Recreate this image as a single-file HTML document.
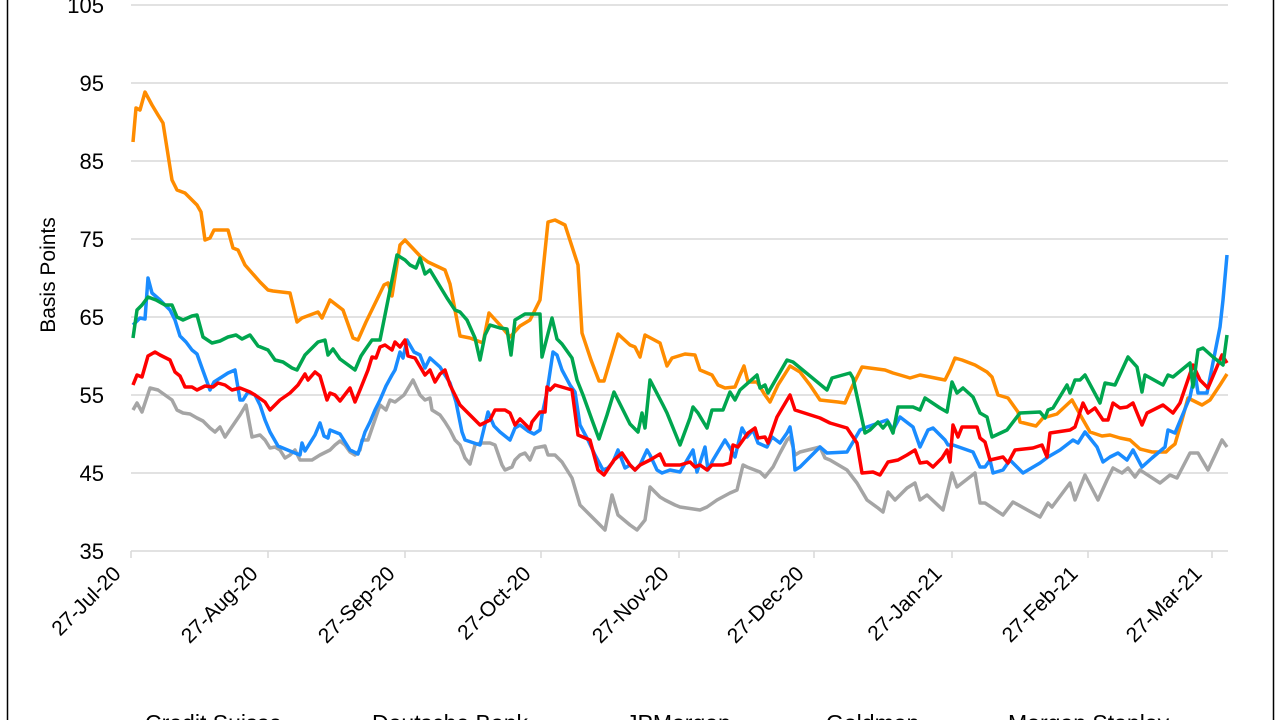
<!DOCTYPE html>
<html><head><meta charset="utf-8"><style>
html,body{margin:0;padding:0;background:#fff;width:1280px;height:720px;overflow:hidden}
svg{display:block;font-family:"Liberation Sans",Calibri,sans-serif}
</style></head><body>
<svg width="1280" height="720" viewBox="0 0 1280 720">
<rect x="0" y="0" width="1280" height="720" fill="#fff"/>
<line x1="7.5" y1="0" x2="7.5" y2="720" stroke="#000" stroke-width="1.5"/>
<line x1="1273.5" y1="0" x2="1273.5" y2="720" stroke="#000" stroke-width="1.5"/>
<g stroke="#d9d9d9" stroke-width="1.5">
<line x1="131" y1="5" x2="1228" y2="5"/>
<line x1="131" y1="83" x2="1228" y2="83"/>
<line x1="131" y1="161" x2="1228" y2="161"/>
<line x1="131" y1="239" x2="1228" y2="239"/>
<line x1="131" y1="317" x2="1228" y2="317"/>
<line x1="131" y1="395" x2="1228" y2="395"/>
<line x1="131" y1="473" x2="1228" y2="473"/>
<line x1="131" y1="551" x2="1228" y2="551"/>
<line x1="131" y1="551" x2="131" y2="558"/><line x1="268" y1="551" x2="268" y2="558"/><line x1="405" y1="551" x2="405" y2="558"/><line x1="541" y1="551" x2="541" y2="558"/><line x1="679" y1="551" x2="679" y2="558"/><line x1="814" y1="551" x2="814" y2="558"/><line x1="952" y1="551" x2="952" y2="558"/><line x1="1088" y1="551" x2="1088" y2="558"/><line x1="1212" y1="551" x2="1212" y2="558"/>
</g>
<g font-size="22" fill="#000" text-anchor="end">
<text x="104" y="13">105</text><text x="104" y="91">95</text><text x="104" y="169">85</text><text x="104" y="247">75</text><text x="104" y="325">65</text><text x="104" y="403">55</text><text x="104" y="481">45</text><text x="104" y="559">35</text>
</g>
<text x="0" y="0" font-size="21" text-anchor="middle" transform="translate(55,275) rotate(-90)">Basis Points</text>
<g font-size="21" fill="#000" text-anchor="end">
<text transform="translate(122,575) rotate(-45)">27-Jul-20</text>
<text transform="translate(259,575) rotate(-45)">27-Aug-20</text>
<text transform="translate(396,575) rotate(-45)">27-Sep-20</text>
<text transform="translate(532,575) rotate(-45)">27-Oct-20</text>
<text transform="translate(670,575) rotate(-45)">27-Nov-20</text>
<text transform="translate(805,575) rotate(-45)">27-Dec-20</text>
<text transform="translate(943,575) rotate(-45)">27-Jan-21</text>
<text transform="translate(1079,575) rotate(-45)">27-Feb-21</text>
<text transform="translate(1203,575) rotate(-45)">27-Mar-21</text>
</g>
<g fill="none" stroke-width="3.5" stroke-linejoin="round">
<polyline stroke="#a5a5a5" points="133,410 137,403 142,412 150,388 158,390 165,395 172,400 177,410 183,413 190,414 197,418 203,421 210,428 215,432 220,427 225,437 240,415 246,405 252,437 260,435 265,440 270,448 275,447 280,450 285,458 290,455 295,450 300,460 305,460 312,460 320,455 330,450 335,445 340,441 345,445 350,452 355,455 360,450 362,440 368,440 380,405 386,410 390,400 395,402 404,395 413,380 420,395 425,400 430,398 432,410 440,415 445,422 450,430 455,440 460,445 465,458 470,464 475,445 480,443 490,443 495,445 502,465 505,470 512,467 515,460 520,455 525,453 530,460 535,448 545,446 548,455 555,455 562,462 572,478 580,505 590,515 600,525 605,530 612,495 618,515 630,525 637,530 645,520 650,487 660,497 665,500 675,505 680,507 700,510 707,507 717,500 730,493 737,490 743,465 747,467 760,472 765,477 773,467 780,453 787,440 790,437 793,447 795,455 800,452 820,447 825,458 830,460 847,470 857,483 867,500 878,508 883,512 888,492 895,500 907,488 915,483 920,500 927,495 943,510 952,473 957,487 975,473 980,503 985,503 1003,515 1013,502 1040,517 1048,503 1052,507 1070,483 1075,500 1085,475 1098,500 1107,480 1113,468 1122,473 1128,468 1135,477 1140,470 1160,483 1170,475 1177,478 1190,453 1198,453 1208,470 1222,440 1227,447"/>
<polyline stroke="#ff8c00" points="133,142 136,108 140,110 145,92 152,105 158,115 163,123 172,180 177,190 185,193 197,205 201,212 205,240 210,238 214,230 228,230 233,248 238,250 245,265 260,282 268,290 273,291 290,293 297,322 302,318 318,312 322,318 330,300 343,310 353,338 358,340 366,322 384,285 388,283 392,296 400,245 405,240 420,256 428,262 445,270 450,284 460,336 470,338 483,343 489,313 500,325 510,337 520,326 530,320 540,300 548,222 555,220 565,225 578,265 582,333 591,360 599,381 604,381 618,334 630,345 635,347 640,357 645,335 660,343 667,366 672,358 685,354 695,355 700,370 712,375 718,385 725,388 735,387 740,375 744,366 748,382 757,382 765,395 770,402 778,385 790,366 800,372 810,385 820,400 838,402 845,403 852,387 862,367 885,370 893,373 900,375 910,378 920,375 935,378 945,380 950,370 955,358 962,360 975,365 987,372 992,377 998,395 1008,398 1013,405 1018,412 1020,422 1036,426 1043,418 1057,414 1072,400 1082,418 1090,432 1102,436 1110,435 1120,438 1130,440 1140,449 1152,452 1166,452 1170,448 1175,444 1182,420 1188,398 1196,402 1202,405 1210,400 1220,385 1227,374"/>
<polyline stroke="#1a8cff" points="133,325 140,318 145,319 148,278 152,293 160,300 170,310 175,320 180,336 186,342 192,350 197,354 202,368 210,390 214,382 228,373 235,370 240,400 243,400 248,392 255,395 260,405 265,420 270,432 278,446 290,451 300,455 302,443 305,451 315,435 320,423 324,436 328,438 330,430 340,434 350,450 358,454 365,432 370,422 375,410 380,400 386,386 392,375 395,370 400,352 403,358 407,340 414,352 420,355 425,368 430,358 440,367 450,383 456,402 462,432 465,440 480,445 488,412 494,426 500,432 510,440 515,428 520,425 528,431 534,434 540,430 542,415 547,392 553,352 557,355 562,370 570,385 575,392 580,425 588,440 595,455 603,470 608,468 613,462 618,450 625,468 630,465 635,470 640,465 647,450 650,455 657,470 662,473 670,470 680,472 693,450 697,472 705,447 708,470 713,460 725,440 730,448 735,457 742,428 747,437 753,430 758,443 767,447 772,437 780,443 787,433 790,427 793,445 795,470 800,467 820,447 827,453 847,452 853,442 860,430 867,427 887,420 893,430 900,417 913,427 920,447 928,430 933,428 945,440 948,445 953,445 973,452 980,467 985,467 990,460 993,473 1003,470 1010,460 1017,467 1023,473 1040,463 1048,457 1060,450 1073,440 1078,443 1085,432 1097,447 1103,462 1110,457 1118,453 1127,460 1133,450 1142,467 1152,458 1165,447 1168,430 1175,433 1190,397 1195,373 1198,393 1207,393 1220,327 1223,300 1227,255"/>
<polyline stroke="#ff0000" points="133,385 137,375 142,377 148,356 155,352 160,355 170,360 175,372 180,376 185,387 192,387 197,390 205,386 213,387 218,383 225,385 232,390 240,388 250,392 255,395 265,402 270,410 280,400 290,393 298,385 305,374 308,380 315,372 320,376 327,400 330,393 335,395 340,401 350,388 355,402 360,390 368,370 372,357 376,358 380,347 385,345 392,350 395,342 400,347 405,340 408,356 415,358 425,375 430,370 435,382 440,374 445,370 450,385 460,405 470,415 480,425 490,420 495,410 505,410 510,413 515,425 520,419 530,429 532,422 540,412 545,412 547,387 550,390 555,385 572,390 578,435 590,440 598,470 604,475 614,460 622,453 630,465 635,470 640,465 650,460 660,454 665,465 680,465 690,462 695,467 700,465 707,470 712,465 723,465 730,463 733,445 738,447 748,433 755,428 758,438 765,437 768,443 777,417 790,395 795,410 820,418 830,423 847,428 853,437 857,443 862,473 873,472 880,475 888,462 898,460 907,455 915,450 920,463 927,462 933,467 942,458 947,450 950,462 953,425 958,437 962,427 977,427 980,438 985,442 990,460 1003,457 1008,463 1015,450 1033,448 1042,445 1047,457 1050,433 1070,430 1075,427 1083,403 1088,413 1095,408 1103,420 1108,420 1113,403 1120,408 1127,407 1133,403 1142,425 1147,413 1163,405 1173,413 1180,403 1193,365 1200,380 1208,388 1222,355 1227,363"/>
<polyline stroke="#00a64f" points="133,338 137,310 142,305 148,297 156,300 165,305 172,305 177,317 183,320 192,316 197,315 203,337 212,343 220,341 228,337 236,335 242,339 250,335 258,346 268,350 275,360 283,362 292,368 297,370 305,355 318,342 325,340 328,355 333,349 340,359 355,370 361,356 365,350 372,340 380,340 385,315 397,255 405,260 410,265 416,268 420,258 425,274 430,270 447,298 455,310 460,312 467,320 475,338 480,360 485,335 490,325 500,328 507,329 511,355 515,320 525,314 540,314 542,357 552,318 557,339 562,344 572,358 577,380 583,395 592,420 599,439 607,415 614,392 623,410 630,424 638,432 642,413 645,428 650,380 663,405 667,413 680,445 690,418 693,407 698,413 707,428 712,410 723,410 730,392 735,400 740,390 757,375 760,388 765,385 768,393 787,360 793,362 827,390 832,378 850,373 853,378 865,433 870,430 878,422 883,428 888,422 893,433 898,407 913,407 920,410 925,398 940,408 947,412 952,382 957,393 963,388 973,397 980,413 987,417 992,437 1007,430 1020,413 1040,412 1045,418 1048,410 1053,408 1067,385 1070,393 1075,380 1080,380 1085,375 1100,403 1105,383 1115,385 1128,357 1137,367 1142,392 1145,375 1163,385 1168,375 1173,377 1190,363 1193,387 1198,350 1203,348 1213,357 1223,365 1227,335"/>
</g>
<g font-size="23" fill="#000">
<text x="145" y="731">Credit Suisse</text>
<text x="372" y="731">Deutsche Bank</text>
<text x="626" y="731">JPMorgan</text>
<text x="826" y="731">Goldman</text>
<text x="1008" y="731">Morgan Stanley</text>
</g>
</svg>
</body></html>
